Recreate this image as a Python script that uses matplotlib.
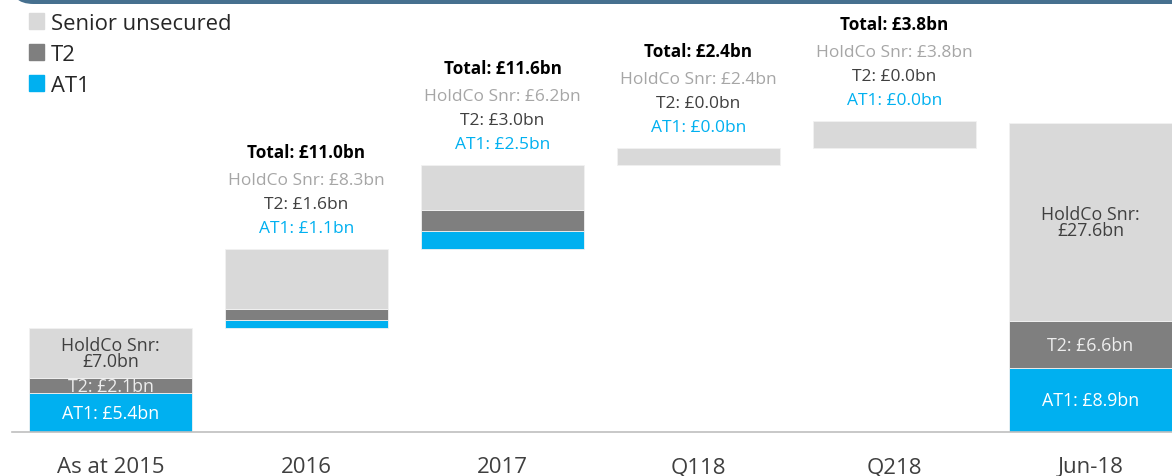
import matplotlib
matplotlib.use("Agg")
import matplotlib.pyplot as plt
from matplotlib.patches import Patch, FancyBboxPatch
import numpy as np

plt.rcParams["font.family"] = ["Open Sans", "DejaVu Sans"]

# Data (GBP bn)
categories = ["As at 2015", "2016", "2017", "Q118", "Q218", "Jun-18"]
at1 = [5.4, 1.1, 2.5, 0.0, 0.0, 8.9]
t2 = [2.1, 1.6, 3.0, 0.0, 0.0, 6.6]
snr = [7.0, 8.3, 6.2, 2.4, 3.8, 27.6]
totals = [14.5, 11.0, 11.6, 2.4, 3.8, 43.1]
is_step = [False, True, True, True, True, False]

C_SNR = "#d9d9d9"
C_T2 = "#7f7f7f"
C_AT1 = "#00b0f0"
C_SNR_TXT = "#a6a6a6"
C_T2_TXT = "#3f3f3f"

fig = plt.figure(figsize=(11.72, 4.77), dpi=100)
ax = fig.add_axes([12 / 1172, 44 / 477, 1 - 12 / 1172, 433 / 477])

x = np.arange(len(categories))
width = 0.83

# waterfall bottoms
bottoms = []
running = 0.0
for i in range(len(categories)):
    if is_step[i]:
        bottoms.append(running)
    else:
        bottoms.append(0.0)
    running = bottoms[-1] + at1[i] + t2[i] + snr[i]

bottoms = np.array(bottoms)
at1 = np.array(at1)
t2 = np.array(t2)
snr = np.array(snr)

kw = dict(width=width, edgecolor="#f2f2f2", linewidth=0.6)
ax.bar(x, at1, bottom=bottoms, color=C_AT1, **kw)
ax.bar(x, t2, bottom=bottoms + at1, color=C_T2, **kw)
ax.bar(x, snr, bottom=bottoms + at1 + t2, color=C_SNR, **kw)

tops = bottoms + at1 + t2 + snr

# labels above floating bars
for i in range(len(categories)):
    if not is_step[i]:
        continue
    xy = (x[i], tops[i])
    ax.annotate(f"AT1: £{at1[i]:.1f}bn", xy, xytext=(0, 15), textcoords="offset points",
                ha="center", va="center", fontsize=12.5, color=C_AT1)
    ax.annotate(f"T2: £{t2[i]:.1f}bn", xy, xytext=(0, 32.5), textcoords="offset points",
                ha="center", va="center", fontsize=12.5, color=C_T2_TXT)
    ax.annotate(f"HoldCo Snr: £{snr[i]:.1f}bn", xy, xytext=(0, 49.7), textcoords="offset points",
                ha="center", va="center", fontsize=12.5, color=C_SNR_TXT)
    ax.annotate(f"Total: £{totals[i]:.1f}bn", xy, xytext=(0, 70), textcoords="offset points",
                ha="center", va="center", fontsize=12.3, color="black", fontweight="bold")

# labels inside the full bars
for i in range(len(categories)):
    if is_step[i]:
        continue
    b = bottoms[i]
    ax.text(x[i], b + at1[i] / 2, f"AT1: £{at1[i]:.1f}bn", ha="center", va="center",
            fontsize=12.8, color="white")
    ax.text(x[i], b + at1[i] + t2[i] / 2, f"T2: £{t2[i]:.1f}bn", ha="center", va="center",
            fontsize=12.8, color="#ededed")
    ax.text(x[i], b + at1[i] + t2[i] + snr[i] / 2, f"HoldCo Snr:\n£{snr[i]:.1f}bn",
            ha="center", va="center", fontsize=12.8, color=C_T2_TXT, linespacing=0.9)

ax.set_xlim(-0.5026, 5.416)
ax.set_ylim(0, 433 / 7.17)
ax.set_xticks(x)
ax.set_xticklabels(categories, fontsize=16, color="#3f3f3f")
ax.tick_params(axis="x", length=0, pad=17.5)
ax.set_yticks([])
for s in ["top", "right", "left"]:
    ax.spines[s].set_visible(False)
ax.spines["bottom"].set_color("#bfbfbf")
ax.spines["bottom"].set_linewidth(1.2)

handles = [Patch(color=C_SNR), Patch(color=C_T2), Patch(color=C_AT1)]
leg = fig.legend(handles, ["Senior unsecured", "T2", "AT1"], loc="upper left",
                 bbox_to_anchor=(9 / 1172, 1 + 6 / 477), frameon=False, fontsize=15.8,
                 handlelength=0.7, handleheight=0.7, handletextpad=0.3,
                 labelspacing=0.45, labelcolor="#262626")

# header band at top
band = FancyBboxPatch((10 / 1172, 1 - 5 / 477), 1.2, 0.2, boxstyle="round,pad=0,rounding_size=0.02",
                      transform=fig.transFigure, facecolor="#46708f", edgecolor="none",
                      mutation_aspect=1172 / 477)
fig.patches.append(band)

fig.savefig("out.png", dpi=100)
